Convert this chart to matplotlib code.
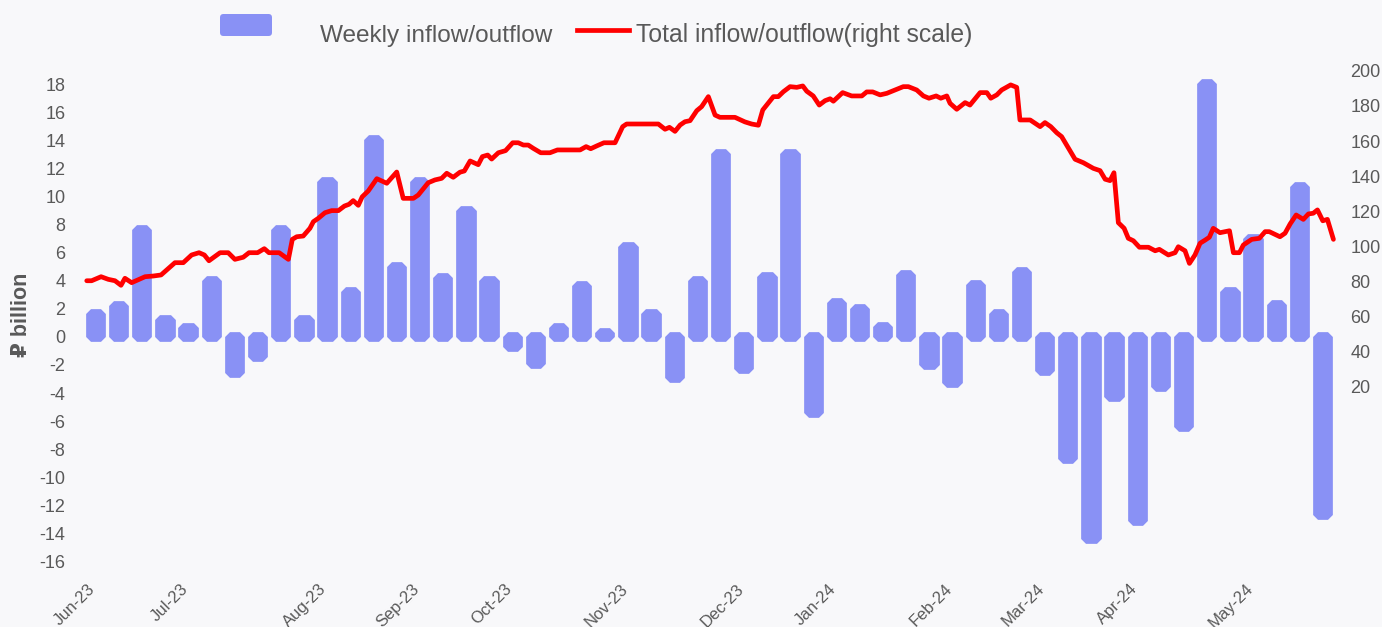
"""Weekly vs total inflow/outflow chart."""
import matplotlib
matplotlib.use("Agg")
import matplotlib.pyplot as plt
import matplotlib.ticker as mticker
from matplotlib.patches import FancyBboxPatch
from matplotlib.lines import Line2D

# ── Palette ───────────────────────────────────────────────────────────────────
BAR  = "#8991F5"
LINE = "#FF0000"
TEXT = "#595959"
BG   = "#F8F8FA"

plt.rcParams["font.family"] = ["Liberation Sans", "DejaVu Sans"]
plt.rcParams["axes.unicode_minus"] = False

# ── Data ──────────────────────────────────────────────────────────────────────
# weekly inflow/outflow, ₽ billion (one bar per week)
weekly = [1.6, 2.2, 7.6, 1.2, 0.6, 4.0, -2.6, -1.4, 7.6, 1.2,
          11.0, 3.2, 14.0, 5.0, 11.0, 4.2, 9.0, 4.0, -0.7, -1.9,
          0.6, 3.6, 0.3, 6.4, 1.6, -2.9, 4.0, 13.0, -2.3, 4.3,
          13.0, -5.4, 2.4, 2.0, 0.7, 4.4, -2.0, -3.3, 3.7, 1.6,
          4.6, -2.4, -8.7, -14.4, -4.3, -13.1, -3.6, -6.4, 18.0, 3.2,
          7.0, 2.3, 10.7, -12.7]

# month labels sit on these weeks
month_weeks  = [0, 4, 10, 14, 18, 23, 28, 32, 37, 41, 45, 50]
month_labels = ["Jun-23", "Jul-23", "Aug-23", "Sep-23", "Oct-23", "Nov-23",
                "Dec-23", "Jan-24", "Feb-24", "Mar-24", "Apr-24", "May-24"]

# total inflow/outflow (right scale): week position, level
line_week = [-0.40, -0.19, 0.22, 0.53, 0.82, 1.08, 1.25, 1.54, 2.12, 2.48,
             2.81, 3.05, 3.41, 3.77, 4.13, 4.45, 4.68, 4.88, 5.36, 5.71,
             6.00, 6.36, 6.61, 6.98, 7.27, 7.47, 7.91, 8.31, 8.48, 8.67,
             8.95, 9.24, 9.39, 9.60, 9.89, 10.18, 10.47, 10.73, 10.93, 11.11,
             11.33, 11.50, 11.76, 12.13, 12.56, 12.99, 13.27, 13.71, 13.92, 14.35,
             14.64, 14.93, 15.15, 15.43, 15.72, 15.91, 16.16, 16.51, 16.69, 16.92,
             17.09, 17.38, 17.69, 18.00, 18.24, 18.46, 18.67, 18.89, 19.21, 19.61,
             19.93, 20.91, 21.17, 21.37, 21.63, 21.94, 22.42, 22.75, 22.92, 24.29,
             24.58, 24.77, 25.01, 25.23, 25.44, 25.66, 25.95, 26.16, 26.45, 26.74,
             26.95, 27.60, 28.03, 28.32, 28.61, 28.80, 28.97, 29.26, 29.47, 29.69,
             29.98, 30.27, 30.53, 30.70, 30.98, 31.24, 31.49, 31.71, 31.85, 32.25,
             32.64, 33.08, 33.29, 33.55, 33.87, 34.16, 34.59, 34.87, 35.09, 35.45,
             35.74, 35.98, 36.29, 36.49, 36.75, 36.89, 37.18, 37.54, 37.75, 38.19,
             38.48, 38.65, 38.91, 39.12, 39.51, 39.77, 39.91, 40.35, 40.78, 40.99,
             41.24, 41.50, 41.71, 42.07, 42.29, 42.65, 43.08, 43.37, 43.59, 43.80,
             43.97, 44.16, 44.41, 44.59, 44.81, 45.07, 45.46, 45.75, 45.93, 46.32,
             46.61, 46.75, 47.04, 47.23, 47.47, 47.69, 47.91, 48.09, 48.26, 48.55,
             48.96, 49.13, 49.39, 49.56, 49.92, 50.25, 50.50, 50.68, 51.14, 51.36,
             51.58, 51.84, 52.15, 52.37, 52.58, 52.76, 52.99, 53.19, 53.45]
line_level = [80.3, 80.3, 82.6, 81.1, 80.3, 77.7, 81.7, 79.2, 82.6, 83.0,
              83.6, 86.4, 90.6, 90.6, 95.0, 96.3, 95.0, 91.7, 96.3, 96.3,
              92.5, 93.7, 96.3, 96.3, 98.6, 96.3, 96.3, 92.5, 103.9, 105.4,
              105.8, 110.2, 114.0, 115.9, 119.1, 120.3, 120.3, 122.9, 123.9, 126.0,
              123.3, 128.2, 131.5, 138.5, 135.9, 142.3, 127.3, 127.3, 129.2, 136.2,
              137.8, 138.7, 141.6, 139.3, 142.2, 142.9, 148.6, 146.5, 151.1, 152.0,
              149.7, 153.3, 154.5, 159.0, 159.0, 157.7, 157.7, 155.8, 153.3, 153.3,
              154.9, 154.9, 156.8, 155.6, 157.2, 159.0, 159.0, 168.2, 169.7, 169.7,
              166.7, 167.8, 165.5, 169.1, 171.0, 171.6, 177.3, 179.6, 185.3, 174.8,
              173.5, 173.5, 170.9, 169.7, 169.0, 177.7, 180.5, 185.3, 185.3, 188.1,
              191.0, 190.6, 191.4, 188.4, 185.7, 180.5, 183.0, 184.1, 182.7, 187.6,
              185.7, 185.7, 188.0, 188.0, 186.3, 187.2, 189.5, 191.0, 191.0, 189.1,
              185.7, 184.4, 185.7, 184.4, 185.7, 181.5, 178.1, 181.9, 180.5, 187.6,
              187.6, 184.4, 186.3, 189.1, 192.0, 190.6, 172.0, 172.0, 168.2, 170.5,
              168.2, 164.7, 162.5, 154.5, 149.6, 147.6, 144.4, 143.1, 138.2, 137.4,
              141.9, 113.4, 110.2, 104.5, 103.1, 99.4, 99.4, 97.4, 98.2, 95.0,
              96.3, 99.7, 97.4, 90.2, 95.0, 101.7, 103.5, 105.1, 110.2, 107.7,
              108.8, 96.3, 96.3, 100.7, 103.9, 104.5, 108.3, 108.3, 105.4, 107.4,
              112.7, 117.8, 115.3, 118.4, 118.8, 120.7, 114.5, 115.3, 103.9]

# ── Figure ────────────────────────────────────────────────────────────────────
W, H = 1382, 627
fig = plt.figure(figsize=(W / 100, H / 100), dpi=100)
fig.patch.set_facecolor(BG)

ax = fig.add_axes([75 / W, 51 / H, 1270 / W, 516 / H])
ax.set_facecolor(BG)

ax.bar(range(len(weekly)), weekly, width=0.445, color=BAR, edgecolor=BAR,
       linewidth=7, joinstyle="bevel", zorder=2)
ax.set_xlim(-0.907, 53.95)
ax.set_ylim(-17.03, 19.72)
ax.yaxis.set_major_locator(mticker.MultipleLocator(2))

ax.set_xticks(month_weeks)
ax.set_xticklabels(month_labels, rotation=45, ha="right", va="baseline",
                   rotation_mode="anchor")
ax.tick_params(axis="x", length=0, pad=10, labelsize=12, colors=TEXT)
ax.tick_params(axis="y", length=0, pad=7, labelsize=13, colors=TEXT)

ax2 = ax.twinx()
ax2.plot(line_week, line_level, color=LINE, linewidth=3.4,
         solid_joinstyle="round", solid_capstyle="round", zorder=3)
ax2.set_ylim(-88.1, 206.2)
ax2.set_yticks(range(20, 201, 20))
ax2.tick_params(axis="y", length=0, pad=4, labelsize=13, colors=TEXT)

for a in (ax, ax2):
    for s in a.spines.values():
        s.set_visible(False)

fig.text(21.5 / W, 1 - 315 / H, "₽ billion", rotation=90, ha="center",
         va="center", fontsize=15.5, fontweight="bold", color=TEXT)

# ── Legend (drawn by hand to keep the original spacing) ───────────────────────
fig.patches.append(FancyBboxPatch(
    (2.20, 5.91), 0.52, 0.22, boxstyle="round,pad=0,rounding_size=0.035",
    facecolor=BAR, edgecolor="none", transform=fig.dpi_scale_trans, figure=fig))
fig.lines.append(Line2D([5.77, 6.29], [5.97, 5.97], color=LINE, linewidth=3.4,
                        transform=fig.dpi_scale_trans, figure=fig))
fig.text(320 / W, 1 - 41.7 / H, "Weekly inflow/outflow", fontsize=17.6,
         color=TEXT, va="baseline")
fig.text(636 / W, 1 - 41.7 / H, "Total inflow/outflow(right scale)",
         fontsize=17.8, color=TEXT, va="baseline")

fig.savefig("out.png", dpi=100, facecolor=BG)
